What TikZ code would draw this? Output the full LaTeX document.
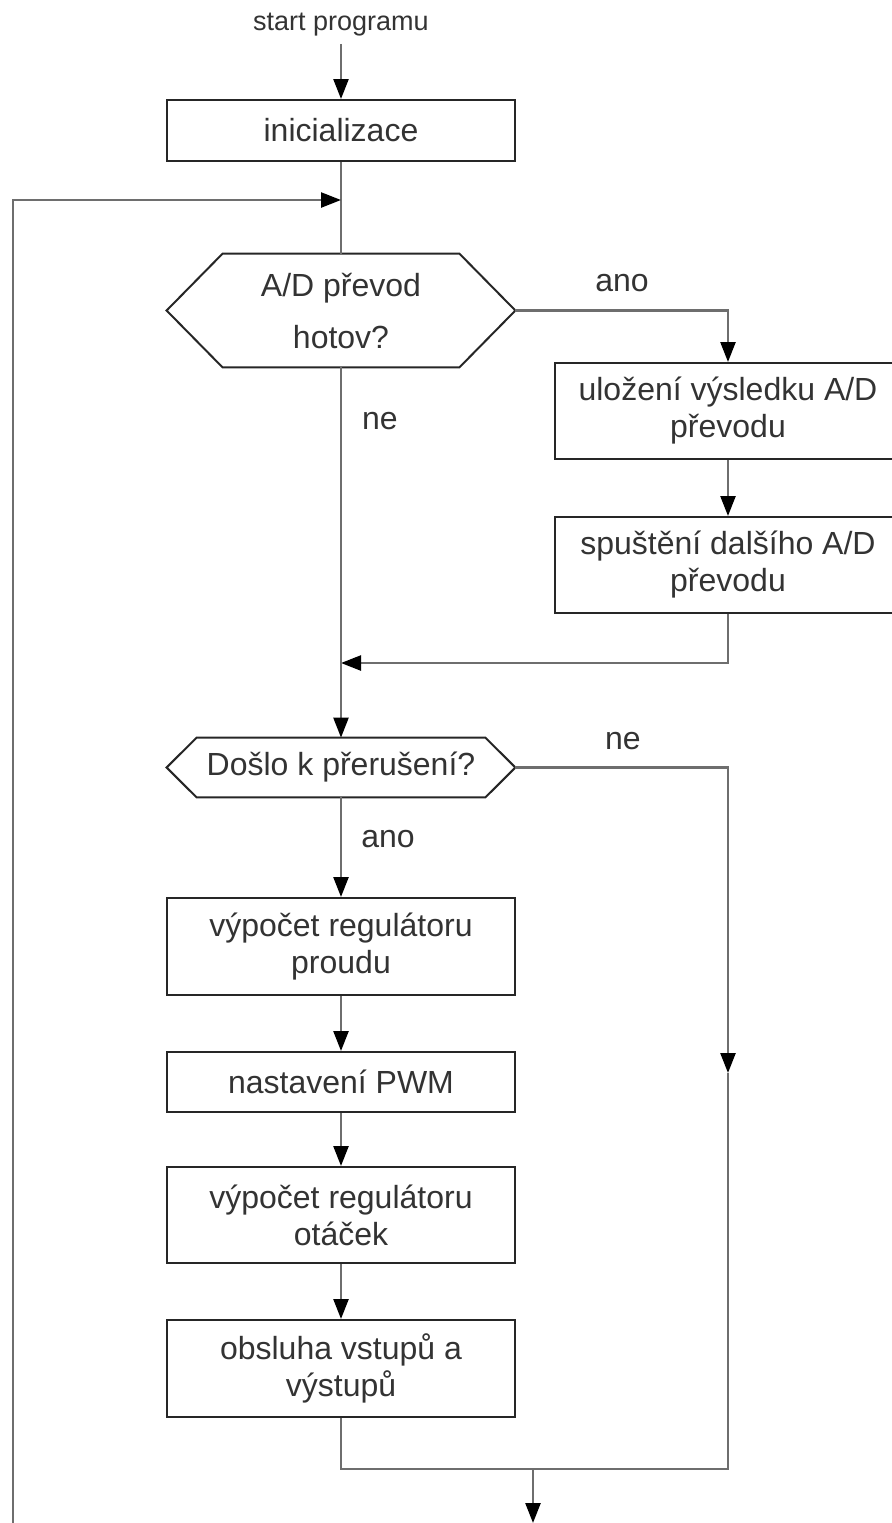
\documentclass[tikz,border=0pt]{standalone}
\usepackage{fontspec}
\setmainfont{Liberation Sans}
\usetikzlibrary{arrows.meta}
\definecolor{txtgray}{RGB}{51,51,51}
\definecolor{linegray}{RGB}{110,110,110}

\begin{document}
\begin{tikzpicture}[x=0.5pt,y=-0.5pt]
	\tikzstyle{every node}=[font=\fontsize{16}{18.5}\selectfont, text=txtgray]
	\tikzstyle{box}=[draw=black!85, line width=1pt, minimum width=174pt, align=center, inner sep=0pt]
	\tikzstyle{decision}=[minimum width=174pt, align=center, inner sep=0pt]
	\tikzstyle{flow}=[draw=linegray, line width=1.2pt]
	\tikzstyle{arr}=[flow, -{Triangle[length=10pt,width=7.5pt,color=black]}]
	\useasboundingbox (0,0) rectangle (892,1523);

	% nodes
	\node [font=\fontsize{13.5}{16}\selectfont, inner sep=3.5pt] (start) at (341,25) {start programu};
	\node [box, minimum height=30.5pt] (init) at (341,130.5) {inicializace};
	\coordinate (j1) at (341,200);
	\coordinate (loopin) at (13,1530);
	\node [decision, minimum height=56.5pt, font=\fontsize{16}{26}\selectfont] (q1) at (341,310.5) {A/D převod\\hotov?};
	\node (lano1) at (622,283) {ano};
	\node [box, minimum width=173pt, minimum height=48pt] (save) at (728,411) {uložení výsledku A/D\\převodu};
	\node (lne1) at (380,421) {ne};
	\node [box, minimum width=173pt, minimum height=48pt] (launch) at (728,565) {spuštění dalšího A/D\\převodu};
	\coordinate (j2) at (341,663);
	\node [decision, minimum height=29.5pt] (q2) at (341,767.5) {Došlo k přerušení?};
	\node (lne2) at (623,741) {ne};
	\coordinate (rmid) at (728,1073);
	\node (lano2) at (388,839) {ano};
	\node [box, minimum height=48.5pt] (reg1) at (341,946.5) {výpočet regulátoru\\proudu};
	\node [box, minimum height=30pt] (pwm) at (341,1082) {nastavení PWM};
	\node [box, minimum height=48pt] (reg2) at (341,1215) {výpočet regulátoru\\otáček};
	\node [box, minimum height=48.5pt] (io) at (341,1368.5) {obsluha vstupů a\\výstupů};
	\coordinate (j4) at (728,1469);
	\coordinate (j5) at (533,1469);
	\coordinate (outend) at (533,1523);

	% hexagons
	\foreach \n/\d in {q1/28pt,q2/15pt}
		\draw [draw=black!85, line width=1pt] (\n.west) -- ([xshift=\d]\n.north west) -- ([xshift=-\d]\n.north east) -- (\n.east) -- ([xshift=-\d]\n.south east) -- ([xshift=\d]\n.south west) -- cycle;

	% connectors
	\draw [arr] (start) -- (init);
	\draw [flow] (init) -- (q1);
	\draw [arr] (loopin) |- (j1);
	\draw [arr] (q1.east) -| (save.north);
	\draw [arr] (save) -- (launch);
	\draw [arr] (launch.south) |- (j2);
	\draw [arr] (q1.south) -- (q2.north);
	\draw [arr] (q2.east) -| (rmid);
	\draw [arr] (q2) -- (reg1);
	\draw [arr] (reg1) -- (pwm);
	\draw [arr] (pwm) -- (reg2);
	\draw [arr] (reg2) -- (io);
	\draw [flow] (io.south) |- (j4) -- (rmid);
	\draw [arr] (j5) -- (outend);
\end{tikzpicture}
\end{document}
